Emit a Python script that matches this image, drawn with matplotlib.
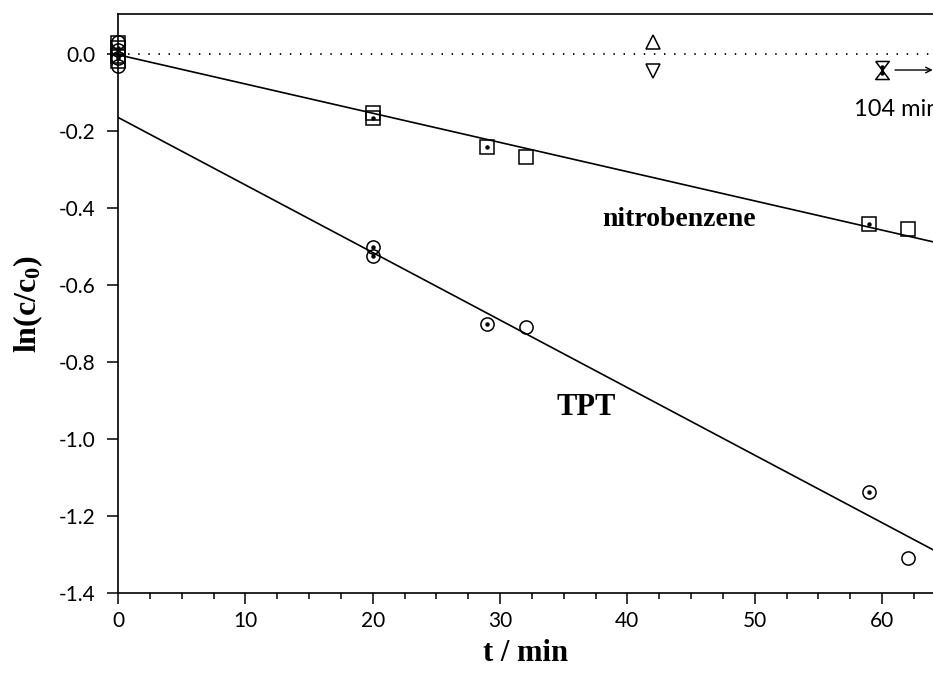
import matplotlib
matplotlib.use('Agg')
import matplotlib.pyplot as plt
from matplotlib.path import Path
import numpy as np

'''Data read off the figure: ln(c/c0) against time in min'''
# "a" points carry a centre dot, "b" points are open symbols
nb_t_a = [0, 0, 20, 29, 59]
nb_a = [0.016, -0.004, -0.166, -0.242, -0.442]
nb_t_b = [0, 0, 20, 32, 62]
nb_b = [0.028, -0.018, -0.153, -0.268, -0.455]

tpt_t_a = [0, 0, 20, 20, 29, 59]
tpt_a = [0.01, -0.01, -0.501, -0.525, -0.701, -1.138]
tpt_t_b = [0, 0, 32, 62]
tpt_b = [0.03, -0.03, -0.709, -1.309]

# control points (triangles)
ctrl_t = [42]
ctrl_up = [0.03]
ctrl_down = [-0.045]
# the 104 min control is drawn at t = 60 with an arrow
late_t = [60, 60]
late_vals = [-0.033, -0.05]

'''Fonts'''
plt.rcParams['font.family'] = ['Lato', 'DejaVu Sans']
plt.rcParams['mathtext.fontset'] = 'custom'
plt.rcParams['mathtext.rm'] = 'Liberation Serif:bold'
plt.rcParams['mathtext.it'] = 'Liberation Serif:bold'
plt.rcParams['mathtext.bf'] = 'Liberation Serif:bold'
serif = dict(family='Liberation Serif', weight='bold')

fig = plt.figure(figsize=(9.33, 6.8), dpi=100)
ax = fig.add_axes([118 / 933, 87 / 680, 815 / 933, 579 / 680])

# symbol style
sym = dict(linestyle='none', mfc='none', mec='k', mew=1.1, ms=9.5, clip_on=False)
dot = dict(linestyle='none', marker='o', color='k', ms=2.2, clip_on=False)

# dotted zero line
ax.axhline(0, color='k', lw=1.3, linestyle=(0, (0.8, 4.8)), zorder=1)

# least squares lines (TPT without the t = 0 points)
nb_t = np.array(nb_t_a + nb_t_b)
nb_y = np.array(nb_a + nb_b)
tpt_t = np.array(tpt_t_a + tpt_t_b)
tpt_y = np.array(tpt_a + tpt_b)
fit_nb = np.polyfit(nb_t, nb_y, 1)
fit_tpt = np.polyfit(tpt_t[tpt_t > 0], tpt_y[tpt_t > 0], 1)
tt = np.array([0, 70])
ax.plot(tt, np.polyval(fit_nb, tt), color='k', lw=1.2)
ax.plot(tt, np.polyval(fit_tpt, tt), color='k', lw=1.2)

# nitrobenzene: squares
ax.plot(nb_t_a, nb_a, marker='s', **sym)
ax.plot(nb_t_a, nb_a, **dot)
ax.plot(nb_t_b, nb_b, marker='s', **sym)

# TPT: circles
ax.plot(tpt_t_a, tpt_a, marker='o', **sym)
ax.plot(tpt_t_a, tpt_a, **dot)
ax.plot(tpt_t_b, tpt_b, marker='o', **sym)

# control
ax.plot(ctrl_t, ctrl_up, marker='^', **sym)
ax.plot(ctrl_t, ctrl_down, marker='v', **sym)

# 104 min control: hourglass symbol with both dots
hourglass = Path([(-0.75, 1), (0.75, 1), (-0.75, -1), (0.75, -1), (-0.75, 1)])
ax.plot([late_t[0]], [np.mean(late_vals)], marker=hourglass,
        linestyle='none', mfc='none', mec='k', mew=1.1, ms=13)
ax.plot(late_t, late_vals, **dot)
ax.annotate('', xy=(64.2, np.mean(late_vals)), xytext=(60.8, np.mean(late_vals)),
            arrowprops=dict(arrowstyle='->', color='k', lw=1.0),
            annotation_clip=False)
ax.text(57.8, -0.143, '104 min', fontsize=17, ha='left', va='center')

# labels on the lines
ax.text(38.0, -0.43, 'nitrobenzene', fontsize=20, va='center', **serif)
ax.text(34.4, -0.917, 'TPT', fontsize=22, va='center', **serif)

'''Axes'''
ax.set_xlim(0, 64)
ax.set_ylim(-1.4, 0.104)
ax.set_xticks(np.arange(0, 61, 10))
ax.set_xticks(np.arange(0, 64, 2.5), minor=True)
yt = np.round(np.arange(-1.4, 0.01, 0.2), 1)
ax.set_yticks(yt)
ax.set_yticklabels(['%.1f' % abs(v) if v == 0 else '%.1f' % v for v in yt])
ax.tick_params(axis='both', which='major', direction='out', length=8,
               width=1.1, labelsize=15, color='k')
ax.tick_params(axis='x', which='major', pad=5)
ax.tick_params(axis='y', which='major', pad=8)
ax.tick_params(axis='x', which='minor', direction='out', length=4, width=1.1)
for s in ['left', 'bottom', 'top']:
    ax.spines[s].set_linewidth(1.2)
ax.spines['right'].set_visible(False)

ax.set_xlabel('t / min', fontsize=22, labelpad=6, **serif)
ax.set_ylabel(r'ln(c/c$_0$)', fontsize=23, labelpad=10, **serif)

fig.savefig('out.png', dpi=100)
